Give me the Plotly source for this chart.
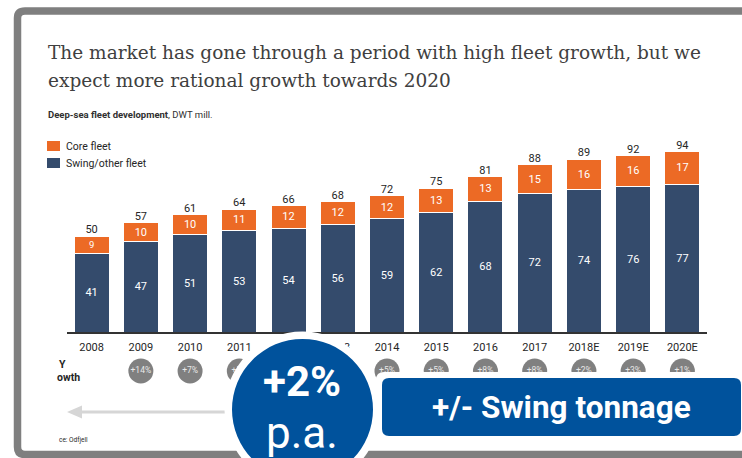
import plotly.graph_objects as go

# Dados do gráfico (DWT mill.)
years = ["2008", "2009", "2010", "2011", "2012", "2013", "2014",
         "2015", "2016", "2017", "2018E", "2019E", "2020E"]
swing = [41, 47, 51, 53, 54, 56, 59, 62, 68, 72, 74, 76, 77]
core = [9, 10, 10, 11, 12, 12, 12, 13, 13, 15, 16, 16, 17]
totals = [50, 57, 61, 64, 66, 68, 72, 75, 81, 88, 89, 92, 94]
growth = ["", "+14%", "+7%", "+5%", "+3%", "+3%", "+5%",
          "+5%", "+8%", "+8%", "+2%", "+3%", "+1%"]

ORANGE = "#EC6A25"
NAVY = "#344B6C"
BLUE = "#00529C"
GRAY = "#808080"
TXT = "#262626"

W, H = 742, 458
L, R, T = 67, 707, 140
BASE = 332  # linha de base das barras (px)


def fx(px):
    return (px - L) / (R - L)


def fy(py):
    return (H - py) / (H - T)


def path(points):
    return "M " + " L ".join(f"{fx(x)},{fy(y)}" for x, y in points)


def rounded_rect(x0, y0, x1, y1, r):
    return (f"M {fx(x0 + r)},{fy(y0)} L {fx(x1 - r)},{fy(y0)} "
            f"Q {fx(x1)},{fy(y0)} {fx(x1)},{fy(y0 + r)} "
            f"L {fx(x1)},{fy(y1 - r)} Q {fx(x1)},{fy(y1)} {fx(x1 - r)},{fy(y1)} "
            f"L {fx(x0 + r)},{fy(y1)} Q {fx(x0)},{fy(y1)} {fx(x0)},{fy(y1 - r)} "
            f"L {fx(x0)},{fy(y0 + r)} Q {fx(x0)},{fy(y0)} {fx(x0 + r)},{fy(y0)} Z")


def circle(cx, cy, r, color):
    return dict(type="circle", x0=fx(cx - r), x1=fx(cx + r), y0=fy(cy + r),
                y1=fy(cy - r), fillcolor=color, line_width=0)


stack_top = [s + c for s, c in zip(swing, core)]
growth_x = [y for y, g in zip(years, growth) if g]
growth_t = [g for g in growth if g]

fig = go.Figure()
fig.add_bar(x=years, y=swing, name="Swing/other fleet", marker_color=NAVY,
            marker_line=dict(color="white", width=1),
            text=swing, textposition="inside", insidetextanchor="middle",
            textangle=0, textfont=dict(color="white", size=11, family="Roboto"))
fig.add_bar(x=years, y=core, name="Core fleet", marker_color=ORANGE,
            marker_line=dict(color="white", width=1),
            text=core, textposition="inside", insidetextanchor="middle",
            textangle=0, textfont=dict(color="white", size=11, family="Roboto"))
fig.add_scatter(x=years, y=stack_top, mode="text", text=totals,
                textposition="top center", cliponaxis=False,
                textfont=dict(color=TXT, size=11, family="Roboto"))
# linha de crescimento anual (bolinhas cinza) num subplot próprio
fig.add_scatter(x=growth_x, y=[0] * len(growth_x), mode="markers+text",
                xaxis="x2", yaxis="y2",
                text=growth_t, textposition="middle center", cliponaxis=False,
                marker=dict(size=25, color=GRAY),
                textfont=dict(color="#E8E8E8", size=8.5, family="Roboto"))

shapes = [
    # moldura cinza do slide
    dict(type="path", line=dict(color="#7F7F7F", width=7.5),
         path=(f"M {fx(760)},{fy(11)} L {fx(25)},{fy(11)} "
               f"Q {fx(17.5)},{fy(11)} {fx(17.5)},{fy(18)} "
               f"L {fx(17.5)},{fy(447)} Q {fx(17.5)},{fy(454.5)} {fx(25)},{fy(454.5)} "
               f"L {fx(760)},{fy(454.5)}")),
    # legenda
    dict(type="rect", x0=fx(47), x1=fx(60), y0=fy(141), y1=fy(151),
         fillcolor=ORANGE, line_width=0),
    dict(type="rect", x0=fx(47), x1=fx(60), y0=fy(158), y1=fy(168),
         fillcolor=NAVY, line_width=0),
    # seta cinza
    dict(type="line", x0=fx(76), x1=fx(250), y0=fy(412), y1=fy(412),
         line=dict(color="#D6D6D6", width=3)),
    dict(type="path", path=path([(67, 412), (82, 405.5), (82, 418.5)]) + " Z",
         fillcolor="#D6D6D6", line_width=0),
    # círculo azul com anel branco
    circle(302.5, 409.5, 78, "white"),
    circle(302.5, 409.5, 70.5, BLUE),
    # caixa azul
    dict(type="path", path=rounded_rect(376, 372, 760, 442, 8),
         fillcolor="white", line_width=0),
    dict(type="path", path=rounded_rect(382, 378, 741, 436, 7),
         fillcolor=BLUE, line_width=0),
]
for s in shapes:
    s.update(xref="paper", yref="paper", layer="above")


def note(text, x, y, size, color=TXT, xanchor="left", family="Roboto", **kw):
    fig.add_annotation(text=text, x=fx(x), y=fy(y), xref="paper", yref="paper",
                       xanchor=xanchor, yanchor="middle", showarrow=False,
                       font=dict(size=size, color=color, family=family), **kw)


note("The market has gone through a period with high fleet growth, but we", 46, 53,
     18.5, color="#404040", family="DejaVu Serif")
note("expect more rational growth towards 2020", 46, 80,
     18.5, color="#404040", family="DejaVu Serif")
note("<b>Deep-sea fleet development</b>, DWT mill.", 46, 114, 9.5, color="#303030")
note("Core fleet", 64, 146, 10.5)
note("Swing/other fleet", 64, 163, 10.5)
note("<b>Y</b>", 57, 364, 10.5)
note("<b>owth</b>", 55, 377, 10.5)
note("ce: Odfjell", 57, 440, 6.5)
note("<b>+2%</b>", 302, 381, 42, color="white", xanchor="center")
note("p.a.", 302, 433, 44, color="white", xanchor="center")
note("<b>+/- Swing tonnage</b>", 561, 407, 31.5, color="white", xanchor="center")

fig.update_layout(
    width=W, height=H, barmode="stack", bargap=0.29, showlegend=False,
    margin=dict(l=L, r=W - R, t=T, b=0),
    paper_bgcolor="white", plot_bgcolor="rgba(0,0,0,0)",
    shapes=shapes,
    xaxis=dict(range=[-0.5, 12.5], showline=True, linecolor="#333333",
               linewidth=1.5, ticks="", showgrid=False, ticklabelstandoff=4,
               tickfont=dict(size=11, color=TXT, family="Roboto")),
    yaxis=dict(domain=[fy(BASE), 1], range=[0, 100], visible=False),
    xaxis2=dict(matches="x", anchor="y2", visible=False),
    yaxis2=dict(domain=[fy(383), fy(359)], range=[-1, 1], visible=False),
)

fig.write_html("out.html", config={"displayModeBar": False},
               post_script="document.body.style.margin='0px';")
